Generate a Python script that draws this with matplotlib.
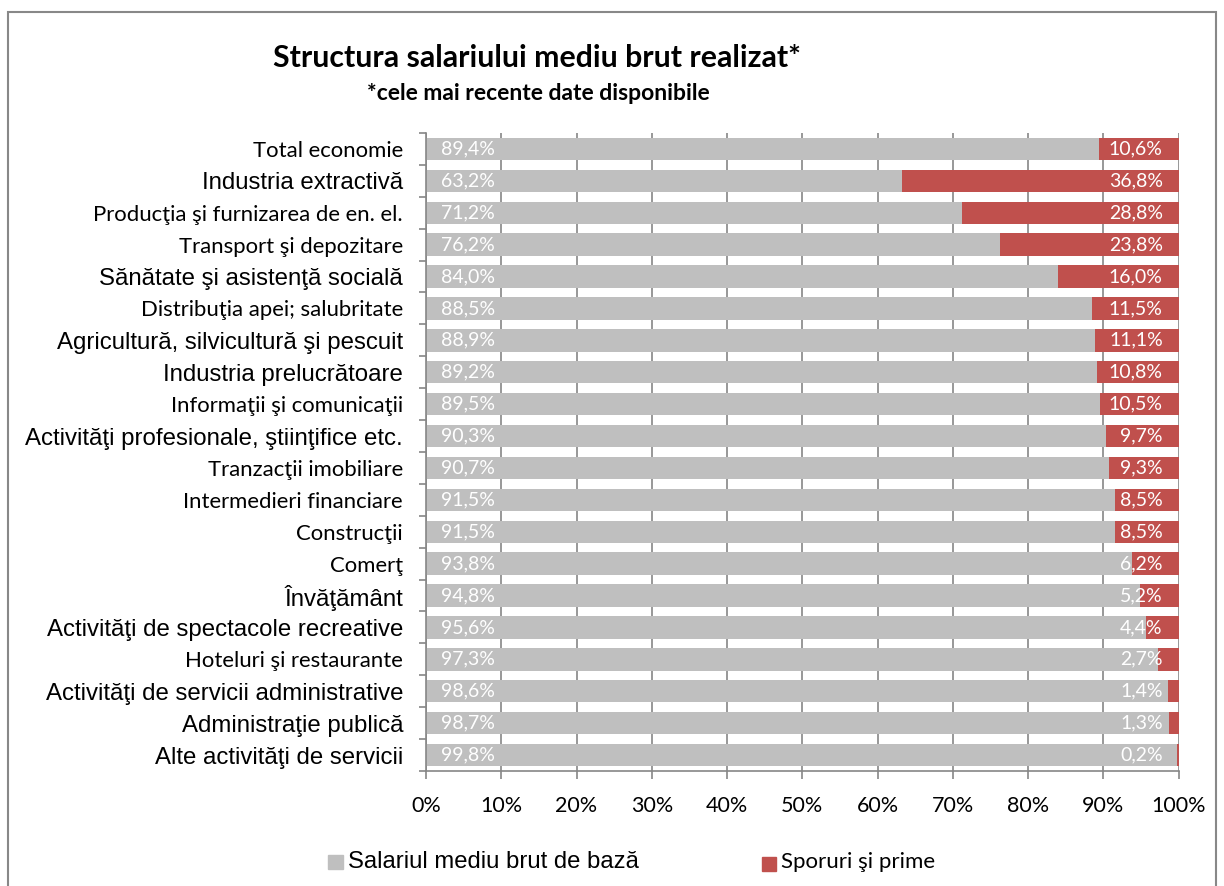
import matplotlib
matplotlib.use("Agg")
import matplotlib.pyplot as plt
from matplotlib.patches import Rectangle
import numpy as np

#%%-------------------- Donnees ----------------------------------------------
categories = [
    "Total economie",
    "Industria extractivă",
    "Producţia şi furnizarea de en. el.",
    "Transport şi depozitare",
    "Sănătate şi asistenţă socială",
    "Distribuţia apei; salubritate",
    "Agricultură, silvicultură şi pescuit",
    "Industria prelucrătoare",
    "Informaţii şi comunicaţii",
    "Activităţi profesionale, ştiinţifice etc.",
    "Tranzacţii imobiliare",
    "Intermedieri financiare",
    "Construcţii",
    "Comerţ",
    "Învăţământ",
    "Activităţi de spectacole recreative",
    "Hoteluri şi restaurante",
    "Activităţi de servicii administrative",
    "Administraţie publică",
    "Alte activităţi de servicii",
]
# labels drawn in the Arial-like font (others in the Calibri-like one)
arial_labels = [False, True, False, False, True, False, True, True, False, True,
                False, False, False, False, True, True, False, True, True, True]

salariu_baza = [89.4, 63.2, 71.2, 76.2, 84.0, 88.5, 88.9, 89.2, 89.5, 90.3,
                90.7, 91.5, 91.5, 93.8, 94.8, 95.6, 97.3, 98.6, 98.7, 99.8]
sporuri = [10.6, 36.8, 28.8, 23.8, 16.0, 11.5, 11.1, 10.8, 10.5, 9.7,
           9.3, 8.5, 8.5, 6.2, 5.2, 4.4, 2.7, 1.4, 1.3, 0.2]

gri = "#BFBFBF"
rosu = "#C0504D"
calibri = "Lato"
arial = "Liberation Sans"

#%%-------------------- Figure -----------------------------------------------
fig = plt.figure(figsize=(12.24, 8.86), dpi=100)
ax = fig.add_axes([0.348, 0.1298, 0.615, 0.7201])

y = np.arange(len(categories))
ax.barh(y, salariu_baza, height=0.7, color=gri, zorder=2)
ax.barh(y, sporuri, left=salariu_baza, height=0.7, color=rosu, zorder=2)

for i in range(len(categories)):
    ax.annotate(f"{salariu_baza[i]:.1f}%".replace(".", ","), (0, i),
                xytext=(11, 0), textcoords="offset points", ha="left", va="center",
                color="white", fontsize=14, family=calibri, zorder=3)
    ax.annotate(f"{sporuri[i]:.1f}%".replace(".", ","), (100, i),
                xytext=(-11.5, 0), textcoords="offset points", ha="right", va="center",
                color="white", fontsize=14, family=calibri, zorder=3)

ax.set_xlim(0, 100)
ax.set_ylim(len(categories) - 0.5, -0.5)
ax.set_xticks(np.arange(0, 101, 10))
ax.set_xticklabels([f"{v}%" for v in range(0, 101, 10)], family=calibri, fontsize=15.5)
ax.grid(True, axis="x", color="#868686", linewidth=1.2, zorder=0)
ax.set_axisbelow(True)

ax.set_yticks(y)
ax.set_yticklabels(categories)
for lab, is_arial in zip(ax.get_yticklabels(), arial_labels):
    if is_arial:
        lab.set_family(arial)
        lab.set_fontsize(17.3)
    else:
        lab.set_family(calibri)
        lab.set_fontsize(15.9)
ax.tick_params(axis="y", length=0, pad=16.5)
ax.set_yticks(np.arange(-0.5, len(categories), 1), minor=True)
ax.tick_params(axis="y", which="minor", length=5, color="#868686", width=1.2)
ax.tick_params(axis="x", length=6, color="#868686", width=1.2, pad=12)

for s in ["top", "right"]:
    ax.spines[s].set_visible(False)
ax.spines["left"].set_color("#868686")
ax.spines["bottom"].set_color("#868686")
ax.spines["left"].set_linewidth(1.2)
ax.spines["bottom"].set_linewidth(1.2)

#%%-------------------- Titre et legende -------------------------------------
fig.text(0.439, 0.934, "Structura salariului mediu brut realizat*", ha="center",
         va="center", fontsize=21.8, fontweight="bold", family=calibri)
fig.text(0.440, 0.895, "*cele mai recente date disponibile", ha="center",
         va="center", fontsize=16.5, fontweight="bold", family=calibri)

fig.patches.append(Rectangle((328 / 1224, 1 - 869 / 886), 15 / 1224, 14 / 886,
                             transform=fig.transFigure, color=gri))
fig.text(348 / 1224, 1 - 862 / 886, "Salariul mediu brut de bază", ha="left",
         va="center", fontsize=17.2, family=arial)
fig.patches.append(Rectangle((762 / 1224, 1 - 871 / 886), 14 / 1224, 14 / 886,
                             transform=fig.transFigure, color=rosu))
fig.text(781 / 1224, 1 - 862 / 886, "Sporuri şi prime", ha="left",
         va="center", fontsize=16, family=calibri)

# cadre exterieur
fig.patches.append(Rectangle((8 / 1224, -0.05), 1208 / 1224, 1.05 - 12 / 886,
                             transform=fig.transFigure, fill=False,
                             edgecolor="#888888", linewidth=1.5))

fig.savefig("out.png", dpi=100, facecolor="white")
